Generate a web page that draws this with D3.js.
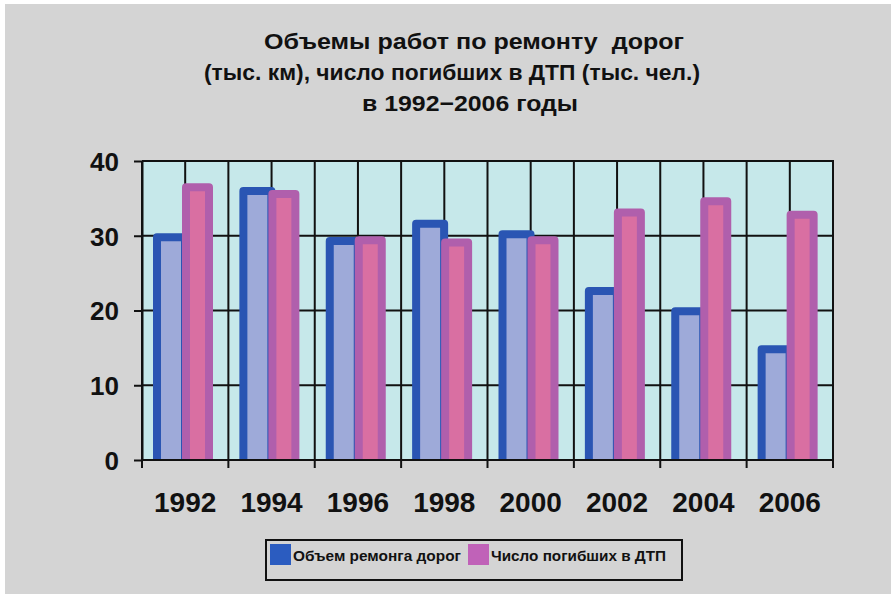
<!DOCTYPE html>
<html>
<head>
<meta charset="utf-8">
<script src="https://cdn.jsdelivr.net/npm/d3@7"></script>
<style>
  html, body { margin: 0; padding: 0; background: #ffffff; }
  svg { display: block; font-family: "Liberation Sans", Arial, sans-serif; }
  text { white-space: pre; }
</style>
</head>
<body>
<div id="chart"></div>
<script>
// Road repair volume (thousand km) and road deaths (thousand people), 1992–2006
const years = ["1992", "1994", "1996", "1998", "2000", "2002", "2004", "2006"];
const seriesNames = ["Объем ремонга дорог", "Число погибших в ДТП"];
const repairVolume = [29.8, 36.0, 29.3, 31.6, 30.2, 22.6, 19.9, 14.8];
const roadDeaths = [36.5, 35.6, 29.4, 29.1, 29.4, 33.1, 34.6, 32.8];
const yTicks = [0, 10, 20, 30, 40];
const titleLines = [
  "Объемы работ по ремонту  дорог",
  "(тыс. км), число погибших в ДТП (тыс. чел.)",
  "в 1992\u22122006 годы"
];

const W = 891, H = 594;
const plot = { left: 142, right: 833, top: 161, bottom: 460 };

const fills = ["#9eaad9", "#d96fa2"];
const strokes = ["#2a55b3", "#b05fac"];
const legendSwatch = ["#2b5cc0", "#c062b8"];

const svg = d3.select("#chart").append("svg")
  .attr("width", W).attr("height", H);

// page background with a thin white margin at the top and left
svg.append("rect").attr("x", 0).attr("y", 0).attr("width", W).attr("height", H).attr("fill", "#ffffff");
svg.append("rect").attr("x", 5).attr("y", 4).attr("width", W - 5).attr("height", H - 4).attr("fill", "#d4d4d4");

// title: each line set at its own start and width
const titleBox = [
  { x: 264, w: 420 },
  { x: 204, w: 496 },
  { x: 362, w: 216 }
];
svg.append("g").selectAll("text").data(titleLines).join("text")
  .attr("x", (d, i) => titleBox[i].x)
  .attr("y", (d, i) => 49 + i * 31)
  .attr("textLength", (d, i) => titleBox[i].w)
  .attr("lengthAdjust", "spacingAndGlyphs")
  .attr("font-size", 22)
  .attr("font-weight", "bold")
  .attr("fill", "#111")
  .text(d => d);

const x0 = d3.scaleBand().domain(years).range([plot.left, plot.right]).padding(0);
const x1 = d3.scaleBand().domain([0, 1]).range([11, 71]).padding(0);
const y = d3.scaleLinear().domain([0, 40]).range([plot.bottom, plot.top]);

// plot area
svg.append("rect")
  .attr("x", plot.left).attr("y", plot.top)
  .attr("width", plot.right - plot.left).attr("height", plot.bottom - plot.top)
  .attr("fill", "#c6e8ea");

const grid = svg.append("g").attr("stroke", "#111").attr("stroke-width", 2);
// horizontal grid lines
grid.selectAll("line.h").data(yTicks.filter(t => t > 0 && t < 40)).join("line")
  .attr("class", "h")
  .attr("x1", plot.left).attr("x2", plot.right)
  .attr("y1", d => y(d)).attr("y2", d => y(d));
// vertical grid lines at group edges and group centres
const vLines = [];
years.forEach(yr => {
  vLines.push(x0(yr));
  vLines.push(x0(yr) + x0.bandwidth() / 2);
});
grid.selectAll("line.v").data(vLines).join("line")
  .attr("class", "v")
  .attr("x1", d => d).attr("x2", d => d)
  .attr("y1", plot.top).attr("y2", plot.bottom);

// bars: the second series slightly overlaps the first
const clip = svg.append("clipPath").attr("id", "plotclip");
clip.append("rect").attr("x", plot.left).attr("y", 0).attr("width", plot.right - plot.left).attr("height", plot.bottom + 1);

const barData = [];
years.forEach((yr, i) => {
  barData.push({ year: yr, s: 0, v: repairVolume[i] });
  barData.push({ year: yr, s: 1, v: roadDeaths[i] });
});
const sw = 8;
const extendRight = [6, 0];
const extendLeft = [0, 1];
svg.append("g").attr("clip-path", "url(#plotclip)")
  .selectAll("rect").data(barData).join("rect")
  .attr("x", d => x0(d.year) + x1(d.s) - extendLeft[d.s] + sw / 2)
  .attr("width", d => x1.bandwidth() + extendLeft[d.s] + extendRight[d.s] - sw)
  .attr("y", d => y(d.v))
  .attr("height", d => y(0) - y(d.v) + sw / 2)
  .attr("fill", d => fills[d.s])
  .attr("stroke", d => strokes[d.s])
  .attr("stroke-width", sw)
  .attr("stroke-linejoin", "round");

// frame: top and right borders
svg.append("path")
  .attr("d", `M${plot.left},${plot.top}H${plot.right}V${plot.bottom}`)
  .attr("fill", "none").attr("stroke", "#111").attr("stroke-width", 2);

// y axis
const yAxis = svg.append("g")
  .attr("transform", `translate(${plot.left},0)`)
  .call(d3.axisLeft(y).tickValues(yTicks).tickSize(8).tickPadding(15).tickSizeOuter(0));
yAxis.select(".domain").attr("stroke", "#111").attr("stroke-width", 2);
yAxis.selectAll(".tick line").attr("stroke", "#111").attr("stroke-width", 2);
yAxis.selectAll(".tick text")
  .attr("font-family", "Liberation Sans, Arial, sans-serif")
  .attr("font-size", 26).attr("font-weight", "bold").attr("fill", "#111")
  .attr("dy", "0.36em");

// x axis: ticks at group edges, labels at group centres
const edges = years.map(yr => x0(yr)).concat([plot.right]);
const xg = svg.append("g");
xg.append("line")
  .attr("x1", plot.left - 1).attr("x2", plot.right + 1)
  .attr("y1", plot.bottom).attr("y2", plot.bottom)
  .attr("stroke", "#111").attr("stroke-width", 2);
xg.selectAll("line.t").data(edges).join("line")
  .attr("class", "t")
  .attr("x1", d => d).attr("x2", d => d)
  .attr("y1", plot.bottom).attr("y2", plot.bottom + 8)
  .attr("stroke", "#111").attr("stroke-width", 2);
xg.selectAll("text").data(years).join("text")
  .attr("x", d => x0(d) + x0.bandwidth() / 2)
  .attr("y", 512)
  .attr("text-anchor", "middle")
  .attr("font-size", 28).attr("font-weight", "bold").attr("fill", "#111")
  .text(d => d);

// legend
const lg = svg.append("g");
lg.append("rect")
  .attr("x", 266).attr("y", 540).attr("width", 416).attr("height", 40)
  .attr("fill", "none").attr("stroke", "#111").attr("stroke-width", 2);
const legendX = [270, 468];
const legendW = [168, 175];
const item = lg.selectAll("g.item").data(seriesNames).join("g").attr("class", "item");
item.append("rect")
  .attr("x", (d, i) => legendX[i]).attr("y", 544)
  .attr("width", 21).attr("height", 21)
  .attr("fill", (d, i) => legendSwatch[i]);
item.append("text")
  .attr("x", (d, i) => legendX[i] + 23)
  .attr("y", 561)
  .attr("textLength", (d, i) => legendW[i])
  .attr("lengthAdjust", "spacingAndGlyphs")
  .attr("font-size", 15).attr("font-weight", "bold").attr("fill", "#111")
  .text(d => d);
</script>
</body>
</html>
